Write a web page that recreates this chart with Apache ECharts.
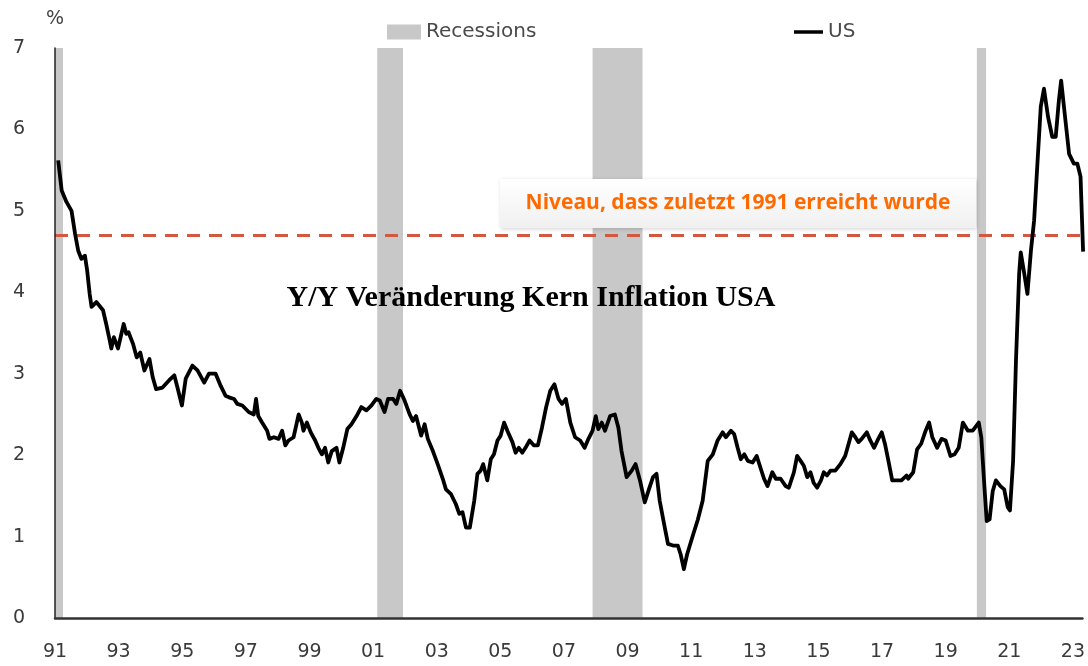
<!DOCTYPE html>
<html>
<head>
<meta charset="utf-8">
<script src="https://cdn.jsdelivr.net/npm/echarts@6/dist/echarts.min.js"></script>
<style>
html,body{margin:0;padding:0;background:#fff;}
#chart{width:1088px;height:666px;}
</style>
</head>
<body>
<div id="chart"></div>
<script>
// ---- data ----
const years = [
1991.10,1991.21,1991.36,1991.52,1991.63,1991.73,1991.83,1991.94,1992.01,1992.09,1992.15,1992.30,1992.51,1992.61,1992.72,1992.77,1992.85,1992.98,
1993.16,1993.24,1993.31,1993.45,1993.57,1993.68,1993.81,1993.97,1994.07,1994.18,1994.38,1994.59,1994.75,1994.85,1994.99,
1995.11,1995.32,1995.48,1995.69,1995.84,1996.05,1996.21,1996.36,1996.47,1996.63,1996.73,1996.89,
1997.09,1997.25,1997.32,1997.39,1997.51,1997.67,1997.74,1997.88,1998.03,1998.14,1998.24,1998.34,1998.50,1998.66,1998.76,1998.81,1998.92,
1999.04,1999.18,1999.28,1999.39,1999.49,1999.59,1999.70,1999.85,1999.94,2000.06,2000.19,2000.32,2000.48,2000.63,2000.79,2000.95,
2001.10,2001.21,2001.36,2001.47,2001.63,2001.73,2001.85,2001.99,2002.15,2002.25,2002.35,2002.51,2002.62,2002.72,2002.88,
2003.03,2003.19,2003.29,2003.45,2003.60,2003.71,2003.81,2003.92,2004.04,2004.18,2004.28,2004.38,2004.46,2004.59,2004.70,2004.80,2004.91,
2005.01,2005.12,2005.22,2005.38,2005.48,2005.58,2005.69,2005.79,2005.92,2006.05,2006.18,2006.31,2006.44,2006.57,2006.70,2006.83,2006.94,
2007.06,2007.20,2007.35,2007.51,2007.65,2007.77,2007.90,2008.00,2008.08,2008.19,2008.29,2008.45,2008.60,2008.71,2008.81,2008.97,
2009.13,2009.25,2009.39,2009.54,2009.67,2009.80,2009.91,2010.01,2010.15,2010.27,2010.43,2010.58,2010.67,2010.77,2010.87,
2011.05,2011.21,2011.36,2011.52,2011.68,2011.83,2011.99,2012.09,2012.25,2012.35,2012.46,2012.56,2012.67,2012.78,2012.93,
2013.06,2013.19,2013.29,2013.40,2013.55,2013.66,2013.81,2013.97,2014.07,2014.23,2014.33,2014.44,2014.54,2014.65,2014.75,2014.85,2014.96,
2015.08,2015.17,2015.27,2015.38,2015.53,2015.69,2015.84,2015.95,2016.05,2016.16,2016.26,2016.36,2016.52,2016.63,2016.75,2016.88,2016.99,
2017.09,2017.20,2017.32,2017.46,2017.61,2017.77,2017.82,2017.98,2018.10,2018.23,2018.37,2018.48,2018.58,2018.73,2018.87,
2019.00,2019.15,2019.28,2019.41,2019.54,2019.70,2019.85,2020.04,2020.12,2020.22,2020.29,2020.38,2020.48,2020.58,2020.72,2020.84,2020.95,
2021.02,2021.12,2021.21,2021.31,2021.36,2021.47,2021.57,2021.68,2021.78,2021.89,2021.99,2022.09,2022.22,2022.35,2022.46,2022.56,2022.63,2022.74,2022.88,
2023.03,2023.14,2023.24,2023.32
];
const usCore = [
5.62,5.25,5.11,5.00,4.72,4.51,4.41,4.45,4.27,3.98,3.82,3.88,3.78,3.61,3.41,3.31,3.45,3.31,
3.61,3.49,3.51,3.37,3.20,3.26,3.04,3.18,2.96,2.81,2.83,2.92,2.98,2.83,2.61,
2.94,3.10,3.04,2.89,3.00,3.00,2.85,2.73,2.71,2.69,2.63,2.61,
2.53,2.50,2.69,2.48,2.40,2.30,2.20,2.22,2.20,2.30,2.12,2.18,2.22,2.50,2.40,2.30,2.40,
2.28,2.18,2.09,2.01,2.09,1.91,2.05,2.09,1.91,2.09,2.32,2.38,2.48,2.59,2.55,2.61,
2.69,2.67,2.53,2.69,2.69,2.63,2.79,2.67,2.50,2.42,2.48,2.24,2.38,2.20,2.05,
1.89,1.71,1.58,1.52,1.40,1.28,1.30,1.11,1.11,1.44,1.77,1.81,1.89,1.69,1.95,2.01,2.18,
2.24,2.40,2.30,2.16,2.03,2.09,2.03,2.09,2.18,2.12,2.12,2.34,2.59,2.79,2.87,2.69,2.63,
2.69,2.40,2.22,2.18,2.09,2.20,2.30,2.48,2.32,2.40,2.30,2.48,2.50,2.34,2.05,1.73,
1.81,1.89,1.69,1.42,1.58,1.73,1.77,1.44,1.15,0.91,0.89,0.89,0.78,0.60,0.78,
1.01,1.21,1.44,1.93,2.01,2.18,2.28,2.22,2.30,2.26,2.09,1.95,2.01,1.93,1.91,
1.99,1.83,1.71,1.62,1.79,1.71,1.71,1.62,1.60,1.79,1.99,1.93,1.87,1.73,1.79,1.66,1.60,
1.69,1.79,1.75,1.81,1.81,1.89,1.99,2.14,2.28,2.22,2.16,2.20,2.28,2.18,2.09,2.20,2.28,
2.14,1.93,1.69,1.69,1.69,1.75,1.71,1.79,2.07,2.14,2.30,2.40,2.22,2.09,2.20,
2.18,1.99,2.01,2.09,2.40,2.30,2.30,2.40,2.22,1.60,1.19,1.21,1.56,1.69,1.62,1.58,1.36,
1.32,1.93,3.16,4.23,4.49,4.23,3.98,4.51,4.88,5.62,6.28,6.50,6.15,5.91,5.91,6.36,6.60,6.20,5.70,
5.58,5.58,5.42,4.50
];
const recessionStart = [1990.55, 2001.13, 2007.90, 2019.98];
const recessionEnd   = [1991.25, 2001.94, 2009.47, 2020.27];
const referenceLevel = 4.7;
const seriesNames = ['Recessions', 'US'];
const titleText = 'Y/Y Veränderung Kern Inflation USA';
const noteText = 'Niveau, dass zuletzt 1991 erreicht wurde';

// ---- chart ----
const chart = echarts.init(document.getElementById('chart'), null, {renderer: 'canvas'});
const lineData = years.map((y, i) => [y, usCore[i]]);
const recData = recessionStart.map((s, i) => [s, recessionEnd[i]]);
const labelFont = {fontFamily: 'DejaVu Sans', fontSize: 19, color: '#3a3a3a'};
const legendText = {fontFamily: 'DejaVu Sans', fontSize: 20, color: '#4a4a4a'};

chart.setOption({
  animation: false,
  backgroundColor: '#ffffff',
  grid: {left: 55, right: 0, top: 48, bottom: 48, containLabel: false},
  legend: [
    {data: [{name: seriesNames[0], icon: 'rect'}], left: 382, top: 17, itemWidth: 34, itemHeight: 15, itemGap: 5,
     textStyle: legendText},
    {data: [{name: seriesNames[1], icon: 'rect', itemStyle: {color: '#000'}}], left: 789, top: 17, itemWidth: 29, itemHeight: 3.5, itemGap: 2,
     textStyle: legendText}
  ],
  xAxis: {
    type: 'value', min: 1991, max: 2023.3, interval: 2, z: 5,
    axisLine: {show: true, lineStyle: {color: '#333', width: 2.5}},
    axisTick: {show: false},
    splitLine: {show: false},
    axisLabel: Object.assign({margin: 25, showMaxLabel: false,
      formatter: v => String(Math.round(v) % 100).padStart(2, '0')}, labelFont)
  },
  yAxis: {
    type: 'value', min: 0, max: 7, interval: 1, z: 5,
    name: '%', nameLocation: 'end', nameGap: 19,
    nameTextStyle: {fontFamily: 'DejaVu Sans', fontSize: 19, color: '#444', align: 'center'},
    axisLine: {show: true, lineStyle: {color: '#222', width: 1.5}},
    axisTick: {show: false},
    splitLine: {show: false},
    axisLabel: Object.assign({margin: 30}, labelFont)
  },
  series: [
    {
      name: seriesNames[0], type: 'custom', z: 1,
      itemStyle: {color: '#c8c8c8'},
      encode: {x: [0, 1]},
      data: recData,
      renderItem: (params, api) => {
        const p0 = api.coord([api.value(0), 7]);
        const p1 = api.coord([api.value(1), 0]);
        const cs = params.coordSys;
        const shape = echarts.graphic.clipRectByRect(
          {x: p0[0], y: p0[1], width: p1[0] - p0[0], height: p1[1] - p0[1]},
          {x: cs.x, y: cs.y, width: cs.width, height: cs.height});
        return shape && {type: 'rect', shape: shape, style: {fill: '#c8c8c8'}};
      }
    },
    {
      name: seriesNames[1], type: 'line', z: 3,
      data: lineData, symbol: 'none', showSymbol: false, clip: true,
      lineStyle: {color: '#000', width: 3.8, join: 'round'},
      itemStyle: {color: '#000'},
      markLine: {
        silent: true, symbol: 'none', z: 2,
        label: {show: false},
        lineStyle: {color: '#d4583f', width: 3, type: [13, 9]},
        data: [{yAxis: referenceLevel}]
      }
    }
  ],
  graphic: [
    {
      type: 'rect', z: 10,
      shape: {x: 500, y: 179, width: 476, height: 49},
      style: {
        fill: new echarts.graphic.LinearGradient(0, 0, 0, 1, [
          {offset: 0, color: '#ffffff'}, {offset: 1, color: '#f0f0f0'}]),
        shadowBlur: 4, shadowColor: 'rgba(0,0,0,0.18)', shadowOffsetX: 1, shadowOffsetY: 1
      }
    },
    {
      type: 'text', z: 11, x: 738, y: 203,
      style: {text: noteText, fill: '#ff6a00', font: 'bold 21px "Open Sans"',
              textAlign: 'center', textVerticalAlign: 'middle'}
    },
    {
      type: 'text', z: 11, x: 531, y: 298,
      style: {text: titleText, fill: '#000', font: 'bold 30px "Liberation Serif"',
              textAlign: 'center', textVerticalAlign: 'middle'}
    }
  ]
});
</script>
</body>
</html>
